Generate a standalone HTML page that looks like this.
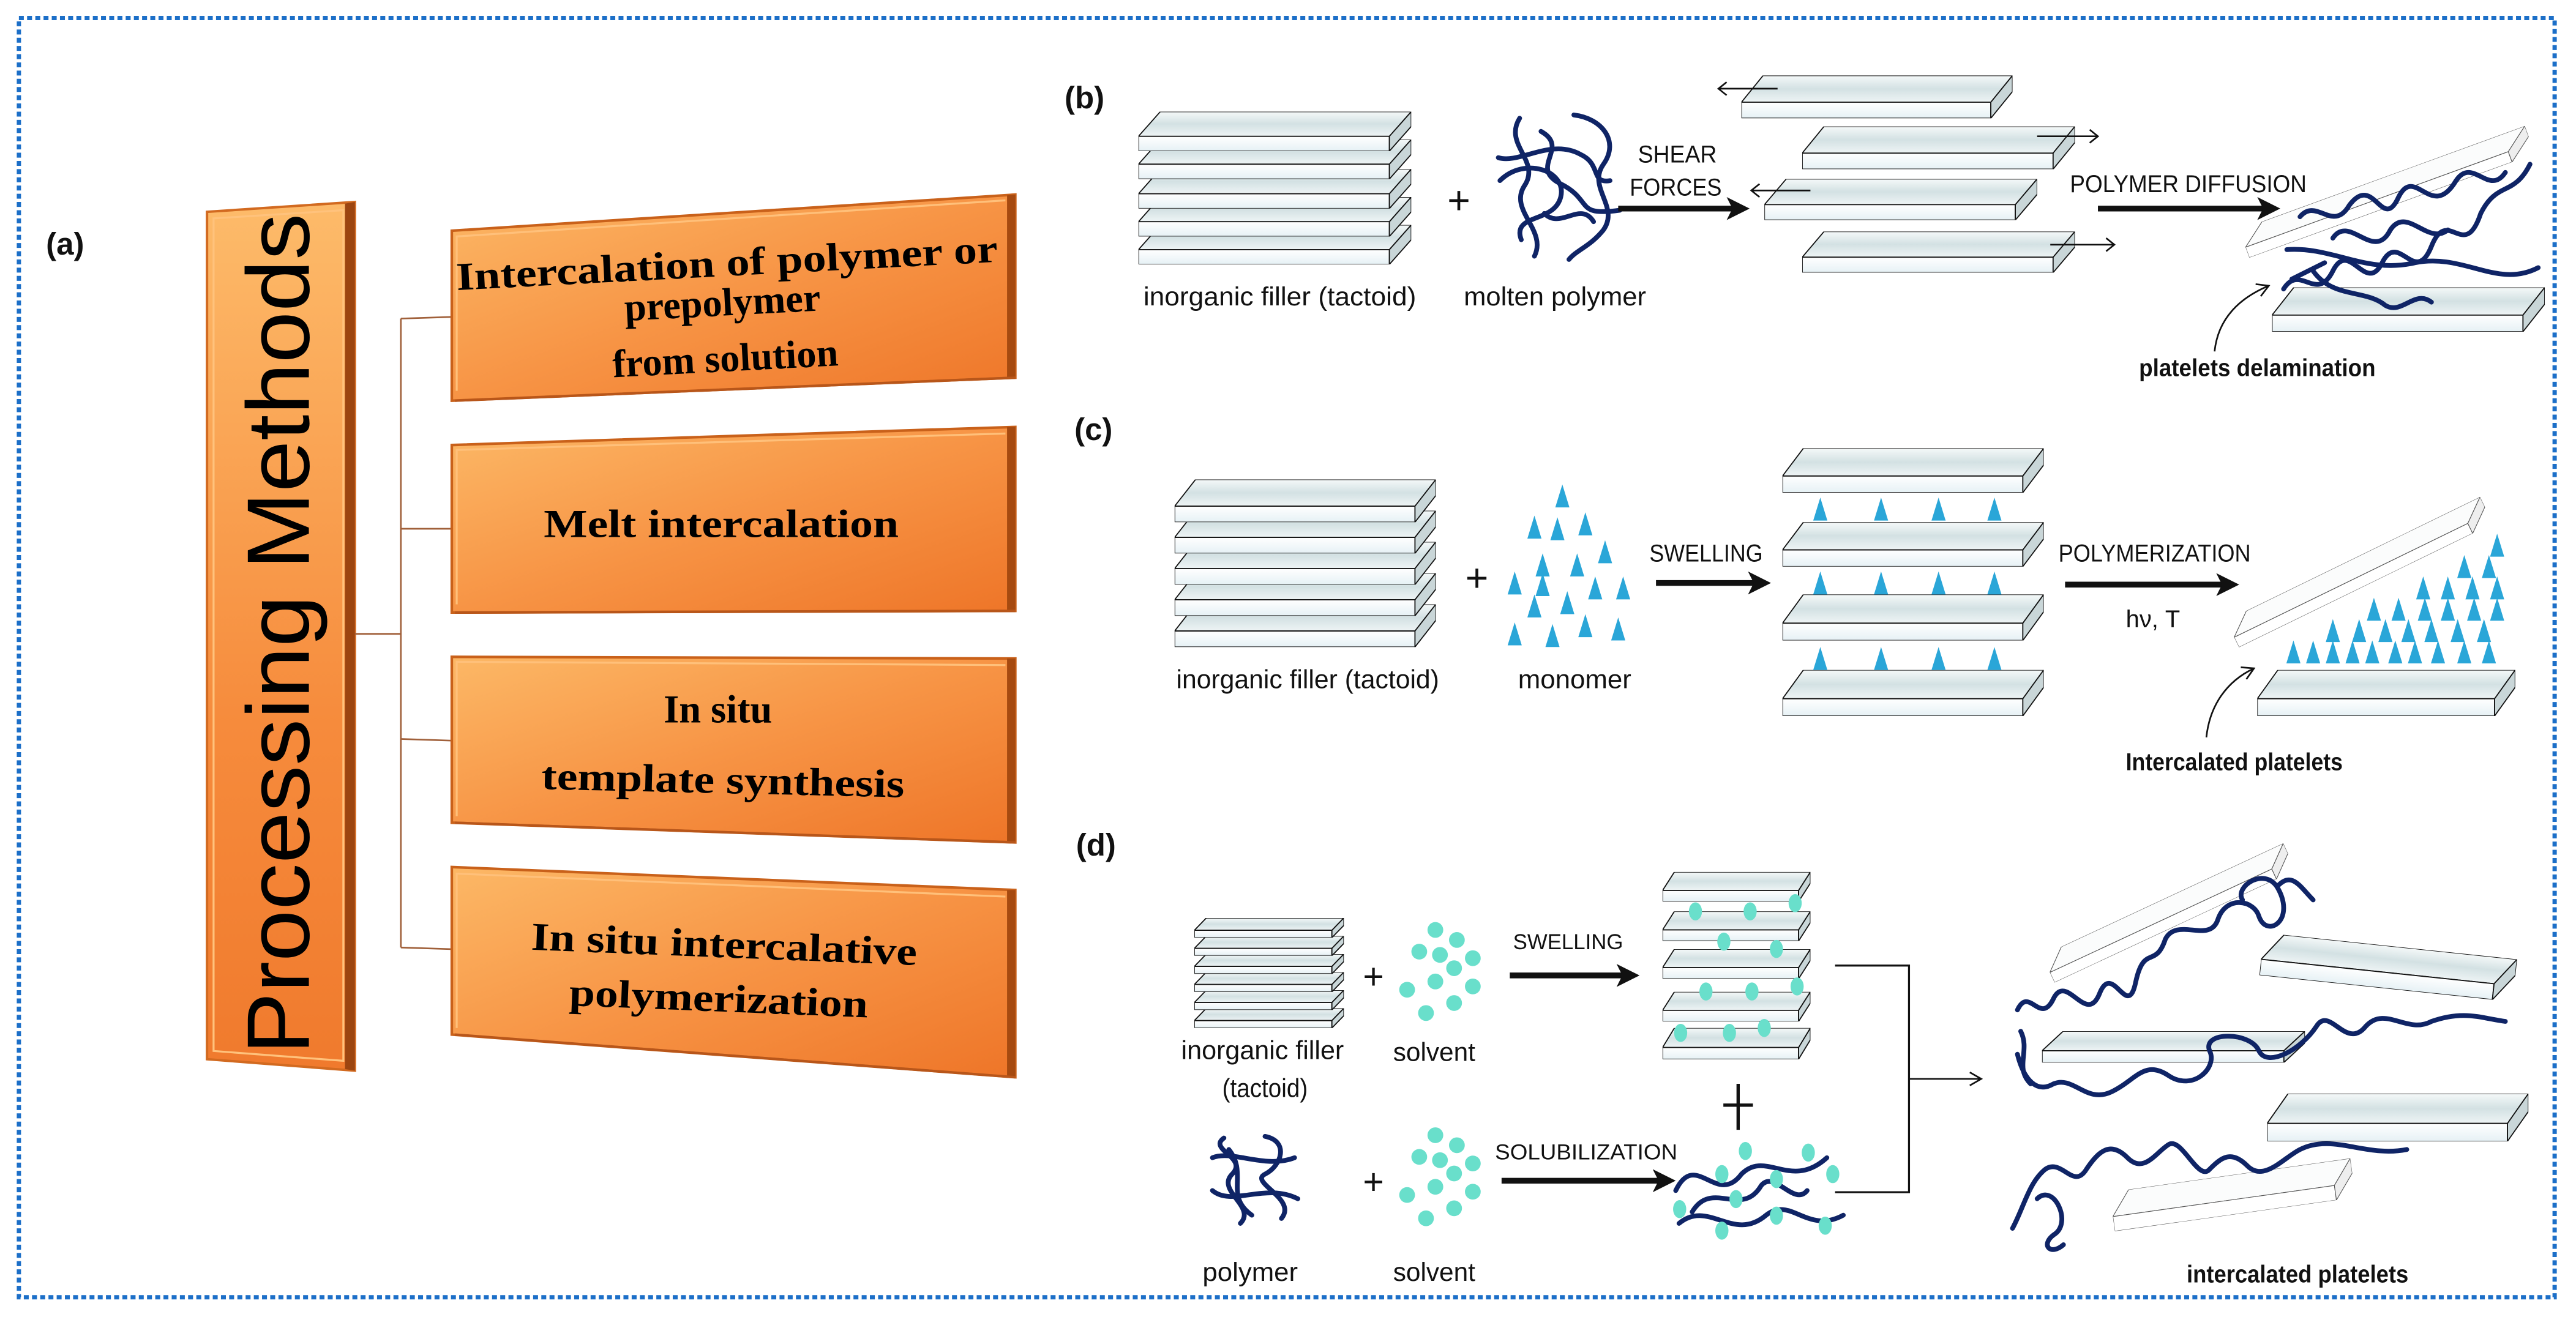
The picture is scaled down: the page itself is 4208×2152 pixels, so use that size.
<!DOCTYPE html>
<html><head><meta charset="utf-8"><style>
html,body{margin:0;padding:0;background:#fff;}
svg{display:block;}
.lbl{font-family:"Liberation Sans",Arial,sans-serif;font-weight:bold;font-size:19px;fill:#111;}
.nar{font-family:"Liberation Sans Narrow","Liberation Sans",sans-serif;fill:#111;}
.bx{font-family:"Liberation Serif",serif;font-weight:bold;font-size:24px;fill:#000;}
.chain{fill:none;stroke:#0f2466;stroke-width:2.9;stroke-linecap:round;}
</style></head><body>
<svg width="4208" height="2152" viewBox="0 0 1568 802" preserveAspectRatio="none" xmlns="http://www.w3.org/2000/svg">
<defs>
<linearGradient id="og" x1="0" y1="0" x2="1" y2="1">
<stop offset="0" stop-color="#fcb866"/><stop offset="0.5" stop-color="#f79445"/><stop offset="1" stop-color="#ee7528"/></linearGradient>
<linearGradient id="og2" x1="0" y1="0" x2="0" y2="1">
<stop offset="0" stop-color="#fdbb6a"/><stop offset="0.6" stop-color="#f68b3c"/><stop offset="1" stop-color="#f07a2d"/></linearGradient>
<linearGradient id="tg" x1="0" y1="0" x2="0" y2="1">
<stop offset="0" stop-color="#f5f9f9"/><stop offset="0.5" stop-color="#d3e1e3"/><stop offset="1" stop-color="#eef4f5"/></linearGradient>
<linearGradient id="fg" x1="0" y1="0" x2="0" y2="1">
<stop offset="0" stop-color="#ffffff"/><stop offset="1" stop-color="#e6f1f5"/></linearGradient>
<symbol id="pl" viewBox="0 0 100 24" preserveAspectRatio="none">
<polygon points="0,15 8,0 100,0 92,15" fill="url(#tg)" stroke="#111" stroke-width="1.8" vector-effect="non-scaling-stroke"/>
<rect x="0" y="15" width="92" height="9" fill="url(#fg)" stroke="#111" stroke-width="1.8" vector-effect="non-scaling-stroke"/>
<polygon points="92,15 100,0 100,9 92,24" fill="#c9d6d8" stroke="#111" stroke-width="1.8" vector-effect="non-scaling-stroke"/>
</symbol>
<symbol id="plo" viewBox="0 0 100 24" preserveAspectRatio="none">
<polygon points="0,15 8,0 100,0 92,15" fill="#fbfcfc" stroke="#555" stroke-width="1.1" vector-effect="non-scaling-stroke"/>
<rect x="0" y="15" width="92" height="9" fill="#fff" stroke="#555" stroke-width="1.1" vector-effect="non-scaling-stroke"/>
<polygon points="92,15 100,0 100,9 92,24" fill="#eee" stroke="#555" stroke-width="1.1" vector-effect="non-scaling-stroke"/>
</symbol>
<symbol id="tri" viewBox="-5 -8 10 16" overflow="visible">
<polygon points="0,-7 -4.3,7 4.3,7" fill="#2aa6d8"/>
</symbol>
<marker id="ah" markerWidth="4" markerHeight="4" refX="2" refY="2" orient="auto" markerUnits="strokeWidth">
<path d="M0,0 L4,2 L0,4 L1,2 Z" fill="#111"/></marker>
<marker id="oh" markerWidth="10" markerHeight="10" refX="9" refY="5" orient="auto" markerUnits="userSpaceOnUse">
<path d="M2,1 L9,5 L2,9" fill="none" stroke="#111" stroke-width="1"/></marker>
</defs>

<rect x="11.5" y="11" width="1543.5" height="779" fill="none" stroke="#1c6fc8" stroke-width="2.6" stroke-dasharray="3 2"/>

<!-- ===== Panel a ===== -->
<text class="lbl" x="28" y="155">(a)</text>
<polygon points="126,129 216,123 216,652 126,645" fill="url(#og2)" stroke="#d26a20" stroke-width="1.5"/>
<polygon points="130,133 209,128 209,646 130,640" fill="none" stroke="#ffc27c" stroke-width="1.2"/>
<polygon points="210,124 216,123 216,652 210,651" fill="#9c4510"/>
<text x="0" y="0" transform="translate(188,642) rotate(-90)" font-family="Liberation Sans,sans-serif" font-size="54" fill="#000" textLength="512" lengthAdjust="spacingAndGlyphs">Processing Methods</text>
<g stroke="#a0603a" stroke-width="1" fill="none">
<path d="M216,386 H244"/>
<path d="M244,194 V577"/>
<path d="M244,194 L275,193"/>
<path d="M244,322 H275"/>
<path d="M244,450 L275,451"/>
<path d="M244,577 L275,578"/>
</g>
<g stroke="#c9611a" stroke-width="1.6">
<polygon points="275,140.5 618,118.5 618,230 275,244" fill="url(#og)"/>
<polygon points="275,271 618,260 618,372 275,373" fill="url(#og)"/>
<polygon points="275,400 618,401 618,513 275,501" fill="url(#og)"/>
<polygon points="275,528 618,542 618,656 275,630" fill="url(#og)"/>
</g>
<g fill="none" stroke="#ffc07a" stroke-width="1.2">
<polyline points="278,238 278,144 612,122"/>
<polyline points="278,368 278,274 612,264"/>
<polyline points="278,497 278,403 612,405"/>
<polyline points="278,626 278,532 612,546"/>
</g>
<g fill="#a64a10">
<polygon points="613,119 618,118.5 618,230 613,230.5"/>
<polygon points="613,260 618,260 618,372 613,372"/>
<polygon points="613,401 618,401 618,513 613,512.5"/>
<polygon points="613,542 618,542 618,656 613,655.5"/>
</g>
<g fill="none" stroke="#b8561a" stroke-width="1.5">
<path d="M277,244 L618,230"/><path d="M277,373 L618,372"/><path d="M277,501 L618,513"/><path d="M277,630 L618,656"/>
</g>
<g transform="rotate(-3 444 190)">
<text class="bx" x="444" y="168" text-anchor="middle" textLength="330" lengthAdjust="spacingAndGlyphs">Intercalation of polymer or</text>
<text class="bx" x="440" y="192" text-anchor="middle">prepolymer</text>
<text class="bx" x="440" y="226" text-anchor="middle">from solution</text>
</g>
<text class="bx" x="439" y="327" text-anchor="middle" textLength="216" lengthAdjust="spacingAndGlyphs">Melt intercalation</text>
<text class="bx" x="437" y="440" text-anchor="middle">In situ</text>
<text class="bx" x="440" y="483" text-anchor="middle" textLength="221" lengthAdjust="spacingAndGlyphs" transform="rotate(1.3 440 478)">template synthesis</text>
<g transform="rotate(2.3 440 595)">
<text class="bx" x="440" y="583" text-anchor="middle" textLength="235" lengthAdjust="spacingAndGlyphs">In situ intercalative</text>
<text class="bx" x="438" y="616" text-anchor="middle" textLength="182" lengthAdjust="spacingAndGlyphs">polymerization</text>
</g>

<!-- ===== Panel b ===== -->
<text class="lbl" x="648" y="66">(b)</text>
<use href="#pl" x="693" y="137" width="166" height="24"/>
<use href="#pl" x="693" y="120" width="166" height="24"/>
<use href="#pl" x="693" y="103" width="166" height="24"/>
<use href="#pl" x="693" y="85" width="166" height="24"/>
<use href="#pl" x="693" y="68" width="166" height="24"/>
<text class="nar" x="888" y="130" font-size="24" text-anchor="middle">+</text>
<g class="chain">
<path d="M925,72 C915,88 938,98 928,113 C918,128 942,140 934,156"/>
<path d="M958,70 C975,72 986,86 976,100 C966,114 986,126 976,140 C968,150 960,152 955,158"/>
<path d="M913,110 C928,95 954,104 950,120 C946,136 920,130 926,146"/>
<path d="M938,80 C956,90 930,102 950,112 C970,122 958,132 986,128"/>
<path d="M912,96 C925,100 944,84 962,94 C975,100 968,112 980,110"/>
<path d="M940,130 C950,140 962,122 970,135"/>
</g>
<text class="nar" x="997" y="99" font-size="15" textLength="48" lengthAdjust="spacingAndGlyphs">SHEAR</text>
<text class="nar" x="992" y="119" font-size="15" textLength="56" lengthAdjust="spacingAndGlyphs">FORCES</text>
<path d="M985,127 H1058" stroke="#111" stroke-width="3.5" marker-end="url(#ah)"/>
<use href="#pl" x="1097" y="141" width="166" height="25"/>
<use href="#pl" x="1074" y="109" width="166" height="25"/>
<use href="#pl" x="1097" y="77" width="166" height="26"/>
<use href="#pl" x="1060" y="46" width="165" height="26"/>
<g stroke="#111" stroke-width="1" fill="none">
<path d="M1082,54 H1046 M1051,50 L1046,54 L1051,58"/>
<path d="M1240,83 H1277 M1272,79 L1277,83 L1272,87"/>
<path d="M1102,116 H1066 M1071,112 L1066,116 L1071,120"/>
<path d="M1248,149 H1287 M1282,145 L1287,149 L1282,153"/>
</g>
<text class="nar" x="1260" y="117" font-size="15" textLength="144" lengthAdjust="spacingAndGlyphs">POLYMER DIFFUSION</text>
<path d="M1277,127 H1381" stroke="#111" stroke-width="3.5" marker-end="url(#ah)"/>
<use href="#pl" x="1383" y="175" width="166" height="27"/>
<use href="#plo" x="0" y="0" width="185" height="18" transform="translate(1363,140) rotate(-20)"/>
<g class="chain">
<path d="M1390,176 C1400,160 1410,185 1420,165 C1430,145 1440,180 1450,160 C1460,140 1470,175 1480,150 C1490,125 1500,160 1510,130 C1520,110 1530,120 1540,100"/>
<path d="M1400,132 C1410,120 1420,142 1430,125 C1445,105 1450,142 1460,120 C1470,100 1480,135 1495,110 C1505,95 1515,120 1525,105"/>
<path d="M1392,152 C1420,150 1440,167 1470,160 C1500,154 1520,176 1545,163"/>
<path d="M1408,165 C1420,182 1440,176 1452,186 C1462,192 1470,176 1480,184"/>
<path d="M1395,170 L1415,160"/>
<path d="M1420,145 C1430,130 1445,160 1455,140 C1465,125 1478,150 1490,140"/>
</g>
<path d="M1348,214 C1350,195 1362,182 1381,174" fill="none" stroke="#111" stroke-width="1" marker-end="url(#oh)"/>
<text class="nar" x="1302" y="229" font-size="15" font-weight="bold" textLength="144" lengthAdjust="spacingAndGlyphs">platelets delamination</text>
<text class="nar" x="696" y="186" font-size="16" textLength="166" lengthAdjust="spacingAndGlyphs">inorganic filler (tactoid)</text>
<text class="nar" x="891" y="186" font-size="16" textLength="111" lengthAdjust="spacingAndGlyphs">molten polymer</text>

<!-- ===== Panel c ===== -->
<text class="lbl" x="654" y="268">(c)</text>
<use href="#pl" x="715" y="368" width="159" height="26"/>
<use href="#pl" x="715" y="349" width="159" height="26"/>
<use href="#pl" x="715" y="330" width="159" height="26"/>
<use href="#pl" x="715" y="311" width="159" height="26"/>
<use href="#pl" x="715" y="292" width="159" height="26"/>
<text class="nar" x="899" y="360" font-size="24" text-anchor="middle">+</text>
<g>
<use href="#tri" x="946" y="294" width="10" height="16"/>
<use href="#tri" x="929" y="313" width="10" height="16"/><use href="#tri" x="943" y="314" width="10" height="16"/><use href="#tri" x="960" y="311" width="10" height="16"/>
<use href="#tri" x="972" y="328" width="10" height="16"/><use href="#tri" x="934" y="336" width="10" height="16"/><use href="#tri" x="955" y="336" width="10" height="16"/>
<use href="#tri" x="917" y="347" width="10" height="16"/><use href="#tri" x="934" y="348" width="10" height="16"/><use href="#tri" x="966" y="350" width="10" height="16"/><use href="#tri" x="983" y="350" width="10" height="16"/>
<use href="#tri" x="929" y="361" width="10" height="16"/><use href="#tri" x="949" y="359" width="10" height="16"/>
<use href="#tri" x="917" y="378" width="10" height="16"/><use href="#tri" x="940" y="379" width="10" height="16"/><use href="#tri" x="960" y="373" width="10" height="16"/><use href="#tri" x="980" y="375" width="10" height="16"/>
</g>
<text class="nar" x="1004" y="342" font-size="15" textLength="69" lengthAdjust="spacingAndGlyphs">SWELLING</text>
<path d="M1008,355 H1071" stroke="#111" stroke-width="3.5" marker-end="url(#ah)"/>
<use href="#pl" x="1085" y="408" width="159" height="28"/>
<use href="#pl" x="1085" y="362" width="159" height="28"/>
<use href="#pl" x="1085" y="318" width="159" height="27"/>
<use href="#pl" x="1085" y="273" width="159" height="27"/>
<g>
<use href="#tri" x="1103" y="302" width="10" height="16"/><use href="#tri" x="1140" y="302" width="10" height="16"/><use href="#tri" x="1175" y="302" width="10" height="16"/><use href="#tri" x="1209" y="302" width="10" height="16"/>
<use href="#tri" x="1103" y="347" width="10" height="16"/><use href="#tri" x="1140" y="347" width="10" height="16"/><use href="#tri" x="1175" y="347" width="10" height="16"/><use href="#tri" x="1209" y="347" width="10" height="16"/>
<use href="#tri" x="1103" y="393" width="10" height="16"/><use href="#tri" x="1140" y="393" width="10" height="16"/><use href="#tri" x="1175" y="393" width="10" height="16"/><use href="#tri" x="1209" y="393" width="10" height="16"/>
</g>
<text class="nar" x="1253" y="342" font-size="15" textLength="117" lengthAdjust="spacingAndGlyphs">POLYMERIZATION</text>
<path d="M1257,356 H1356" stroke="#111" stroke-width="3.5" marker-end="url(#ah)"/>
<text class="nar" x="1294" y="382" font-size="15" textLength="33" lengthAdjust="spacingAndGlyphs">hν, T</text>
<use href="#pl" x="1374" y="408" width="157" height="28"/>
<use href="#plo" x="0" y="0" width="172" height="18" transform="translate(1355,378) rotate(-26)"/>
<g>
<use href="#tri" x="1391" y="389" width="10" height="16"/><use href="#tri" x="1403" y="389" width="10" height="16"/><use href="#tri" x="1415" y="389" width="10" height="16"/><use href="#tri" x="1427" y="389" width="10" height="16"/><use href="#tri" x="1439" y="389" width="10" height="16"/><use href="#tri" x="1453" y="389" width="10" height="16"/><use href="#tri" x="1465" y="389" width="10" height="16"/><use href="#tri" x="1479" y="389" width="10" height="16"/><use href="#tri" x="1495" y="389" width="10" height="16"/><use href="#tri" x="1510" y="389" width="10" height="16"/>
<use href="#tri" x="1415" y="376" width="10" height="16"/><use href="#tri" x="1431" y="376" width="10" height="16"/><use href="#tri" x="1447" y="376" width="10" height="16"/><use href="#tri" x="1461" y="376" width="10" height="16"/><use href="#tri" x="1475" y="376" width="10" height="16"/><use href="#tri" x="1491" y="376" width="10" height="16"/><use href="#tri" x="1507" y="376" width="10" height="16"/>
<use href="#tri" x="1440" y="363" width="10" height="16"/><use href="#tri" x="1455" y="363" width="10" height="16"/><use href="#tri" x="1471" y="363" width="10" height="16"/><use href="#tri" x="1485" y="363" width="10" height="16"/><use href="#tri" x="1501" y="363" width="10" height="16"/><use href="#tri" x="1515" y="363" width="10" height="16"/>
<use href="#tri" x="1470" y="350" width="10" height="16"/><use href="#tri" x="1485" y="350" width="10" height="16"/><use href="#tri" x="1500" y="350" width="10" height="16"/><use href="#tri" x="1515" y="350" width="10" height="16"/>
<use href="#tri" x="1495" y="337" width="10" height="16"/><use href="#tri" x="1510" y="337" width="10" height="16"/>
<use href="#tri" x="1515" y="324" width="10" height="16"/>
</g>
<path d="M1343,449 C1345,430 1355,415 1372,407" fill="none" stroke="#111" stroke-width="1" marker-end="url(#oh)"/>
<text class="nar" x="1294" y="469" font-size="15" font-weight="bold" textLength="132" lengthAdjust="spacingAndGlyphs">Intercalated platelets</text>
<text class="nar" x="716" y="419" font-size="16" textLength="160" lengthAdjust="spacingAndGlyphs">inorganic filler (tactoid)</text>
<text class="nar" x="924" y="419" font-size="16" textLength="69" lengthAdjust="spacingAndGlyphs">monomer</text>

<!-- ===== Panel d ===== -->
<text class="lbl" x="655" y="521">(d)</text>
<use href="#pl" x="727" y="614" width="91" height="12"/>
<use href="#pl" x="727" y="603" width="91" height="12"/>
<use href="#pl" x="727" y="592" width="91" height="12"/>
<use href="#pl" x="727" y="581" width="91" height="12"/>
<use href="#pl" x="727" y="570" width="91" height="12"/>
<use href="#pl" x="727" y="559" width="91" height="12"/>
<text class="nar" x="836" y="602" font-size="22" text-anchor="middle">+</text>
<g id="sol" fill="#69dfcb">
<circle cx="873.7" cy="566.3" r="4.8"/><circle cx="886.8" cy="572.4" r="4.8"/><circle cx="863.9" cy="579.5" r="4.8"/>
<circle cx="876.5" cy="581.5" r="4.8"/><circle cx="896.5" cy="583.5" r="4.8"/><circle cx="885.1" cy="589.6" r="4.8"/>
<circle cx="873.7" cy="597.7" r="4.8"/><circle cx="856.5" cy="602.7" r="4.8"/><circle cx="896.5" cy="600.7" r="4.8"/>
<circle cx="885.1" cy="610.8" r="4.8"/><circle cx="868" cy="616.9" r="4.8"/>
</g>
<use href="#sol" transform="translate(0,125)"/>
<text class="nar" x="921" y="578" font-size="13" textLength="67" lengthAdjust="spacingAndGlyphs">SWELLING</text>
<path d="M919,594 H991" stroke="#111" stroke-width="3.5" marker-end="url(#ah)"/>
<use href="#pl" x="1012" y="626" width="90" height="19"/>
<use href="#pl" x="1012" y="604" width="90" height="18"/>
<use href="#pl" x="1012" y="578" width="90" height="18"/>
<use href="#pl" x="1012" y="555" width="90" height="18"/>
<use href="#pl" x="1012" y="531" width="90" height="18"/>
<g fill="#69dfcb">
<ellipse cx="1032" cy="555" rx="4" ry="5.5"/><ellipse cx="1065.3" cy="555" rx="4" ry="5.5"/><ellipse cx="1092.7" cy="550" rx="4" ry="5.5"/>
<ellipse cx="1049.3" cy="573.4" rx="4" ry="5.5"/><ellipse cx="1081.3" cy="577.9" rx="4" ry="5.5"/>
<ellipse cx="1038.4" cy="603.8" rx="4" ry="5.5"/><ellipse cx="1066.4" cy="603.8" rx="4" ry="5.5"/><ellipse cx="1093.9" cy="600.7" rx="4" ry="5.5"/>
<ellipse cx="1023" cy="629" rx="4" ry="5.5"/><ellipse cx="1052.7" cy="629" rx="4" ry="5.5"/><ellipse cx="1073.9" cy="626" rx="4" ry="5.5"/>
</g>
<text class="nar" x="719" y="645" font-size="16" textLength="99" lengthAdjust="spacingAndGlyphs">inorganic filler</text>
<text class="nar" x="744" y="668" font-size="16" textLength="52" lengthAdjust="spacingAndGlyphs">(tactoid)</text>
<text class="nar" x="848" y="646" font-size="16" textLength="50" lengthAdjust="spacingAndGlyphs">solvent</text>
<path d="M1058,660 V688 M1049,673 H1067" stroke="#111" stroke-width="2"/>
<g class="chain" stroke-width="2.3">
<path d="M745,693 C735,700 760,705 750,715 C740,725 765,735 755,745"/>
<path d="M770,692 C785,695 780,710 770,715 C760,720 790,730 780,742"/>
<path d="M738,705 C750,700 770,712 788,705"/>
<path d="M738,725 C750,735 770,720 790,730"/>
<path d="M748,700 C760,715 745,728 762,740"/>
</g>
<text class="nar" x="836" y="727" font-size="22" text-anchor="middle">+</text>
<text class="nar" x="910" y="706" font-size="13" textLength="111" lengthAdjust="spacingAndGlyphs">SOLUBILIZATION</text>
<path d="M914,719 H1013" stroke="#111" stroke-width="3.5" marker-end="url(#ah)"/>
<g class="chain" stroke-width="2.3">
<path d="M1020,725 C1032,700 1045,735 1060,715 C1075,700 1090,725 1112,705"/>
<path d="M1022,745 C1040,730 1055,757 1075,740 C1090,728 1100,752 1122,740"/>
<path d="M1030,738 C1042,718 1060,742 1072,722 C1080,712 1092,735 1100,725"/>
</g>
<g fill="#69dfcb">
<ellipse cx="1062.4" cy="700.9" rx="4" ry="5.5"/><ellipse cx="1100.7" cy="701.9" rx="4" ry="5.5"/><ellipse cx="1048.1" cy="715" rx="4" ry="5.5"/>
<ellipse cx="1081.3" cy="718" rx="4" ry="5.5"/><ellipse cx="1115.6" cy="715" rx="4" ry="5.5"/><ellipse cx="1022.4" cy="736.3" rx="4" ry="5.5"/>
<ellipse cx="1056.7" cy="730.2" rx="4" ry="5.5"/><ellipse cx="1081.3" cy="740.3" rx="4" ry="5.5"/><ellipse cx="1111" cy="746.4" rx="4" ry="5.5"/>
<ellipse cx="1048.1" cy="749.4" rx="4" ry="5.5"/>
</g>
<text class="nar" x="732" y="780" font-size="16" textLength="58" lengthAdjust="spacingAndGlyphs">polymer</text>
<text class="nar" x="848" y="780" font-size="16" textLength="50" lengthAdjust="spacingAndGlyphs">solvent</text>
<path d="M1117,588 H1162 V726 H1117" fill="none" stroke="#111" stroke-width="1.2"/>
<path d="M1162,657 H1206" fill="none" stroke="#111" stroke-width="1" marker-end="url(#oh)"/>
<use href="#plo" x="0" y="0" width="162" height="18" transform="translate(1243,582) rotate(-25)"/>
<use href="#pl" x="0" y="0" width="155" height="26" transform="translate(1378,568) rotate(6)"/>
<use href="#pl" x="1243" y="628" width="160" height="19"/>
<use href="#pl" x="1380" y="666" width="159" height="29"/>
<use href="#plo" x="0" y="0" width="148" height="24" transform="translate(1284,726) rotate(-8)"/>
<g class="chain">
<path d="M1228,615 C1235,600 1242,625 1250,608 C1258,592 1270,625 1278,605 C1286,585 1295,622 1300,598 C1305,575 1312,590 1318,572 C1325,558 1345,575 1350,560 C1355,545 1372,548 1375,558 C1380,572 1398,560 1386,540 C1378,528 1360,540 1365,548"/>
<path d="M1386,540 C1395,530 1400,540 1408,548"/>
<path d="M1228,642 C1232,658 1240,666 1250,660 C1262,655 1270,672 1285,665 C1300,658 1305,645 1320,655 C1335,665 1350,650 1345,640 C1340,628 1370,628 1375,640 C1380,650 1400,640 1410,625 C1418,612 1428,640 1440,625 C1452,612 1465,630 1480,622 C1500,615 1510,620 1525,622"/>
<path d="M1230,628 C1236,640 1226,650 1236,660"/>
<path d="M1225,748 C1232,735 1235,720 1245,712 C1255,705 1262,725 1270,712 C1278,700 1285,695 1295,705 C1305,715 1312,702 1320,697 C1328,692 1338,720 1345,712 C1352,705 1358,700 1368,710 C1378,720 1390,705 1400,700 C1420,690 1440,705 1465,700"/>
<path d="M1240,730 C1250,720 1262,745 1250,752 C1242,758 1248,765 1256,758"/>
</g>
<text class="nar" x="1331" y="781" font-size="15" font-weight="bold" textLength="135" lengthAdjust="spacingAndGlyphs">intercalated platelets</text>
</svg>
</body></html>
